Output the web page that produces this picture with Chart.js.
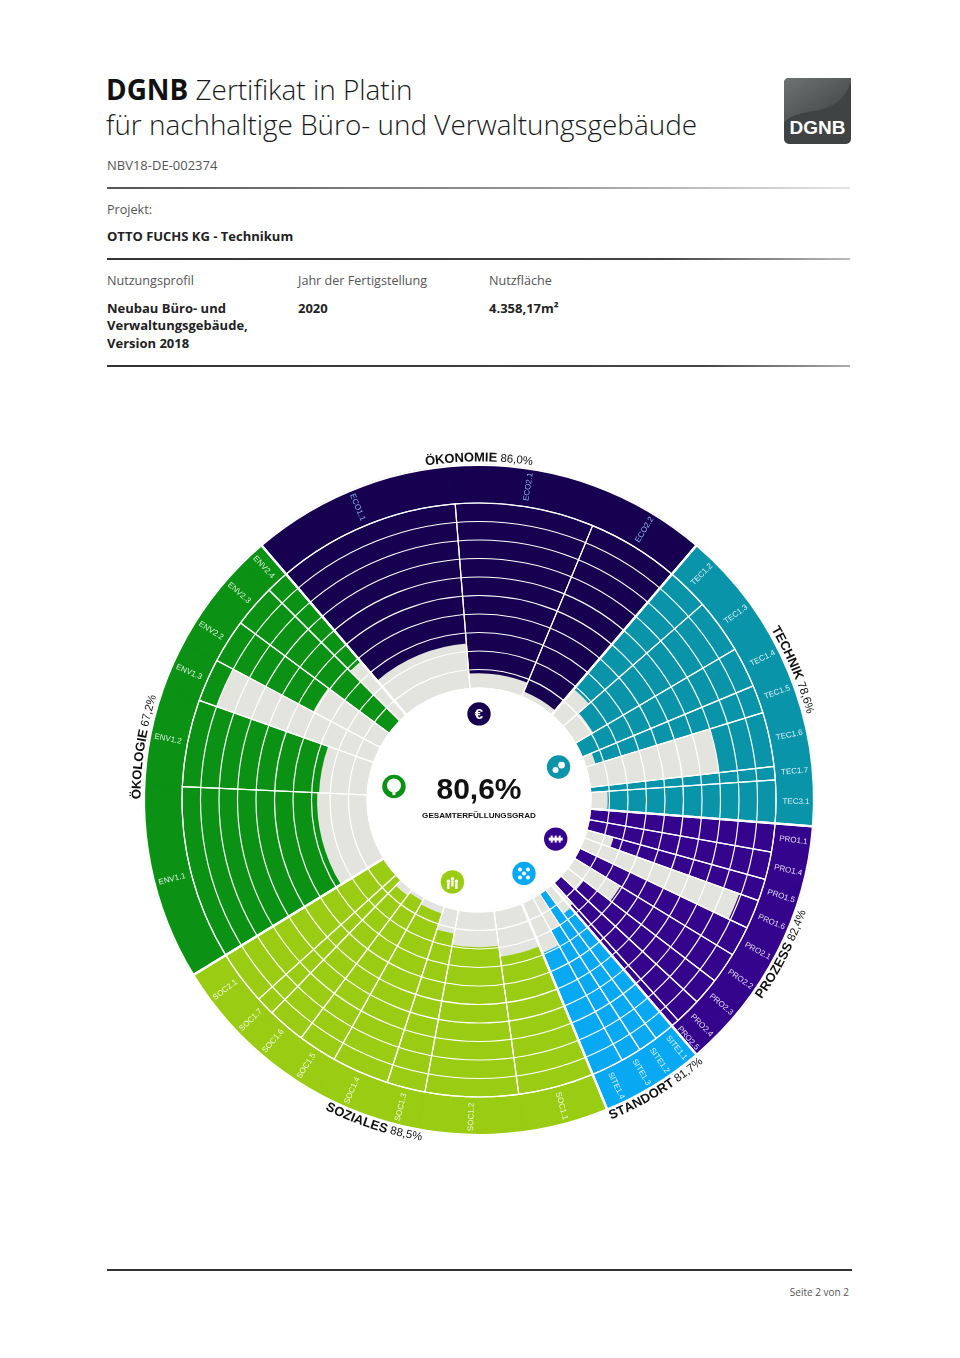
<!DOCTYPE html>
<html lang="de"><head><meta charset="utf-8">
<script src="https://cdn.jsdelivr.net/npm/chart.js@4"></script>
<style>
html,body{margin:0;padding:0;background:#fff;width:960px;height:1358px;overflow:hidden}
body{position:relative;font-family:"Open Sans","Liberation Sans",sans-serif;color:#222}
.t{position:absolute;white-space:nowrap;line-height:1}
.r{position:absolute;height:1.5px}
.s{font-size:12.6px;color:#555;transform:translateY(-50%)}
.b{font-size:13px;font-weight:700;color:#222;transform:translateY(-50%)}
#chart{position:absolute;left:114px;top:435px}
#logo{position:absolute;left:784px;top:78px;width:67px;height:66px}
</style></head><body>
<div class="t" style="left:106px;top:71.5px;font-size:27.9px;font-weight:300;color:#1a1a1a;line-height:35px"><b style="font-weight:700;color:#111">DGNB</b> Zertifikat in Platin<br>für nachhaltige Büro- und Verwaltungsgebäude</div>
<div class="t s" style="left:107px;top:165px;font-size:13px">NBV18-DE-002374</div>
<div class="r" style="left:107px;top:187px;width:743px;background:linear-gradient(90deg,#555,#999 60%,#e4e4e4)"></div>
<div class="t s" style="left:107px;top:210px">Projekt:</div>
<div class="t b" style="left:107px;top:236px">OTTO FUCHS KG - Technikum</div>
<div class="r" style="left:107px;top:258px;width:743px;background:linear-gradient(90deg,#333,#444 75%,#bbb)"></div>
<div class="t s" style="left:107px;top:281px">Nutzungsprofil</div>
<div class="t s" style="left:298px;top:281px">Jahr der Fertigstellung</div>
<div class="t s" style="left:489px;top:281px">Nutzfläche</div>
<div class="t b" style="left:107px;top:307.5px">Neubau Büro- und</div>
<div class="t b" style="left:107px;top:325px">Verwaltungsgebäude,</div>
<div class="t b" style="left:107px;top:342.5px">Version 2018</div>
<div class="t b" style="left:298px;top:307.5px">2020</div>
<div class="t b" style="left:489px;top:307.5px">4.358,17m²</div>
<div class="r" style="left:107px;top:365px;width:743px;background:linear-gradient(90deg,#333,#444 80%,#aaa)"></div>
<div class="r" style="left:107px;top:1269px;width:745px;background:#333"></div>
<div class="t" style="right:111px;top:1287px;font-size:10px;color:#555">Seite 2 von 2</div>
<svg id="logo" viewBox="0 0 67 66"><defs><linearGradient id="g" x1="0" y1="0" x2="1" y2="1"><stop offset="0" stop-color="#6f7373"/><stop offset="1" stop-color="#3c4040"/></linearGradient></defs>
<rect width="67" height="66" rx="5" fill="#3f4343"/><path d="M5 0H67V2C62 22 48 30 30 33C16 35 6 38 0 44V5Q0 0 5 0Z" fill="url(#g)"/>
<text x="33.5" y="56" text-anchor="middle" font-family="Liberation Sans" font-weight="700" font-size="19" fill="#fff">DGNB</text></svg>
<canvas id="chart" width="730" height="730"></canvas>
<script>
// Categories, in clockwise order from the top-left edge of ÖKONOMIE
const categoryNames = ['ÖKONOMIE','TECHNIK','PROZESS','STANDORT','SOZIALES','ÖKOLOGIE'];
const categoryScores = ['86,0%','78,6%','82,4%','81,7%','88,5%','67,2%'];
const categoryColors = ['#16004f','#0a94aa','#35048c','#08a8f2','#99cc12','#0b9114'];

const ecoCodes = ['ECO1.1','ECO2.1','ECO2.2'];
const ecoAngles = [35.9,27.1,18];
const ecoScores = [75.7,92,97];
const tecCodes = ['TEC1.2','TEC1.3','TEC1.4','TEC1.5','TEC1.6','TEC1.7','TEC3.1'];
const tecAngles = [8.3,10.7,7.9,5.5,10.6,2.6,8.4];
const tecScores = [81.6,89,100,94.6,30,100,91];
const proCodes = ['PRO1.1','PRO1.4','PRO1.5','PRO1.6','PRO2.1','PRO2.2','PRO2.3','PRO2.4','PRO2.5'];
const proAngles = [5.6,5.4,4.3,5.7,5.9,6.1,5.3,5.1,1.6];
const proScores = [100,100,85,11,100,71,89,100,85];
const siteCodes = ['SITE1.1','SITE1.2','SITE1.3','SITE1.4'];
const siteAngles = [3.9,3.8,4.0,6.3];
const siteScores = [84,100,80,71];
const socCodes = ['SOC1.1','SOC1.2','SOC1.3','SOC1.4','SOC1.5','SOC1.6','SOC1.7','SOC2.1'];
const socAngles = [14.8,18.2,7.5,11.2,7.6,7.4,3.7,10.6];
const socScores = [75,81,87,96,98,96,100,100];
const envCodes = ['ENV1.1','ENV1.2','ENV1.3','ENV2.2','ENV2.3','ENV2.4'];
const envAngles = [34.1,17,8.4,8.6,8.4,4.5];
const envScores = [73,74,10,59,100,62];

const groupCodes = [ecoCodes,tecCodes,proCodes,siteCodes,socCodes,envCodes];
const groupAngles = [ecoAngles,tecAngles,proAngles,siteAngles,socAngles,envAngles];
const groupScores = [ecoScores,tecScores,proScores,siteScores,socScores,envScores];

const totalScore = '80,6%';
const totalLabel = 'GESAMTERFÜLLUNGSGRAD';
const ringTicks = [0,10,20,30,40,50,60,70,80,90,100];

// The radial axis runs from outside (low) to centre (high): 100% meets the white hole
const axisMin = -20.54, axisMax = 160.54, chartStart = 319.5;
const codeRadiusValue = -10.8, nameRadiusValue = -24.4, iconRadiusValue = 114;

const codes = groupCodes.flat();
const angles = groupAngles.flat();
const scores = groupScores.flat();
const colors = groupCodes.flatMap((g,i)=>g.map(()=>categoryColors[i]));
const categoryAngles = groupAngles.map(a=>a.reduce((s,v)=>s+v,0));

const iconDrawers = [
 (c,x,y)=>{c.fillStyle='#fff';c.font='bold 15px "Liberation Sans"';c.textAlign='center';c.textBaseline='middle';c.fillText('€',x,y+.5);},
 (c,x,y)=>{c.fillStyle='#fff';[[-3,3,3],[3,-2,3.4]].forEach(d=>{c.beginPath();c.arc(x+d[0],y+d[1],d[2],0,7);c.fill();});},
 (c,x,y)=>{c.fillStyle='#fff';c.fillRect(x-7,y-1.5,14,3);[-4,0,4].forEach(d=>c.fillRect(x+d-1,y-3.5,2,7));},
 (c,x,y)=>{c.fillStyle='#fff';[[-4,-4],[4,-4],[-4,4],[4,4],[0,0]].forEach(d=>{c.beginPath();c.arc(x+d[0],y+d[1],2,0,7);c.fill();});},
 (c,x,y)=>{c.fillStyle='#fff';[[-4,1],[0,-1.5],[4,1]].forEach(d=>{c.fillRect(x+d[0]-1.2,y+d[1],2.4,6);c.beginPath();c.arc(x+d[0],y+d[1]-1.6,1.7,0,7);c.fill();});},
 (c,x,y)=>{c.fillStyle='#fff';c.beginPath();c.arc(x,y-1,7,0,7);c.fill();c.fillRect(x-1.5,y+3,3,5.5);}
];

function curvedLabel(c,cx,cy,r,mid,bold,light){
  const flip = Math.sin(mid) > 0;
  const parts = [...bold].map(t=>({t,f:'bold 13px "Liberation Sans"'})).concat([...(' '+light)].map(t=>({t,f:'11.5px "Liberation Sans"'})));
  parts.forEach(p=>{c.font=p.f;p.w=c.measureText(p.t).width;});
  const total = parts.reduce((s,p)=>s+p.w,0);
  let pos = -total/2;
  parts.forEach(p=>{
    const off = (pos+p.w/2)/r, a = flip ? mid-off : mid+off;
    c.save();c.translate(cx+r*Math.cos(a),cy+r*Math.sin(a));
    c.rotate(flip ? a-Math.PI/2 : a+Math.PI/2);
    c.font=p.f;c.fillStyle='#111';c.textAlign='center';c.textBaseline='middle';c.fillText(p.t,0,0);c.restore();
    pos += p.w;
  });
}

const overlay = {id:'overlay',afterDraw(chart){
  const c=chart.ctx, s=chart.scales.r, x0=s.xCenter, y0=s.yCenter;
  const dist=v=>s.getDistanceFromCenterForValue(v);
  const cellArcs=chart.getDatasetMeta(4).data, catArcs=chart.getDatasetMeta(0).data;
  c.save();
  // criterion codes in the outer band
  cellArcs.forEach((arc,i)=>{
    const mid=(arc.startAngle+arc.endAngle)/2, r=dist(codeRadiusValue), left=Math.cos(mid)<0;
    c.save();c.translate(x0+r*Math.cos(mid),y0+r*Math.sin(mid));c.rotate(left?mid+Math.PI:mid);
    c.font='8px "Liberation Sans"';c.fillStyle=colors[i]==categoryColors[0]?'#8fb6ef':'rgba(255,255,255,.85)';
    c.textAlign='center';c.textBaseline='middle';c.fillText(codes[i],0,0);c.restore();
  });
  // category names and icons
  catArcs.forEach((arc,i)=>{
    const mid=(arc.startAngle+arc.endAngle)/2;
    curvedLabel(c,x0,y0,dist(nameRadiusValue),mid,categoryNames[i],categoryScores[i]);
    const r=dist(iconRadiusValue), x=x0+r*Math.cos(mid), y=y0+r*Math.sin(mid);
    c.fillStyle=categoryColors[i];c.beginPath();c.arc(x,y,11.7,0,7);c.fill();
    iconDrawers[i](c,x,y);
  });
  // centre text
  c.fillStyle='#111';c.textAlign='center';c.textBaseline='middle';
  c.font='bold 30px "Liberation Sans"';c.fillText(totalScore,x0,y0-9);
  c.font='bold 8.1px "Liberation Sans"';c.fillText(totalLabel,x0,y0+15.5);
  c.restore();
}};

new Chart(document.getElementById('chart'),{
  type:'polarArea',
  data:{labels:codes,datasets:[
    {label:'category separators',data:categoryAngles.map(()=>axisMin),angle:categoryAngles,backgroundColor:'rgba(0,0,0,0)',borderColor:'#fff',borderWidth:2.2},
    {label:'centre',data:codes.map(()=>100),angle:angles,backgroundColor:'#fff',borderColor:'#fff',borderWidth:1},
    {label:'criterion dividers',data:codes.map(()=>0),angle:angles,backgroundColor:'rgba(0,0,0,0)',borderColor:'#fff',borderWidth:1.2},
    {label:'unfulfilled',data:scores,angle:angles,backgroundColor:'#e3e4dd',borderWidth:0},
    {label:'fulfilled',data:codes.map(()=>axisMin),angle:angles,backgroundColor:colors,borderColor:colors,borderWidth:1.2}
  ]},
  options:{
    responsive:false,animation:false,events:[],
    layout:{padding:30},
    plugins:{legend:{display:false},tooltip:{enabled:false}},
    scales:{r:{
      reverse:true,min:axisMin,max:axisMax,startAngle:chartStart,
      afterBuildTicks:s=>{s.ticks=ringTicks.map(value=>({value}));},
      ticks:{display:false},
      angleLines:{display:false},
      pointLabels:{display:false},
      grid:{circular:true,color:'#fff',lineWidth:1.2,z:1},
      border:{display:false}
    }}
  },
  plugins:[overlay]
});
</script>
</body></html>
